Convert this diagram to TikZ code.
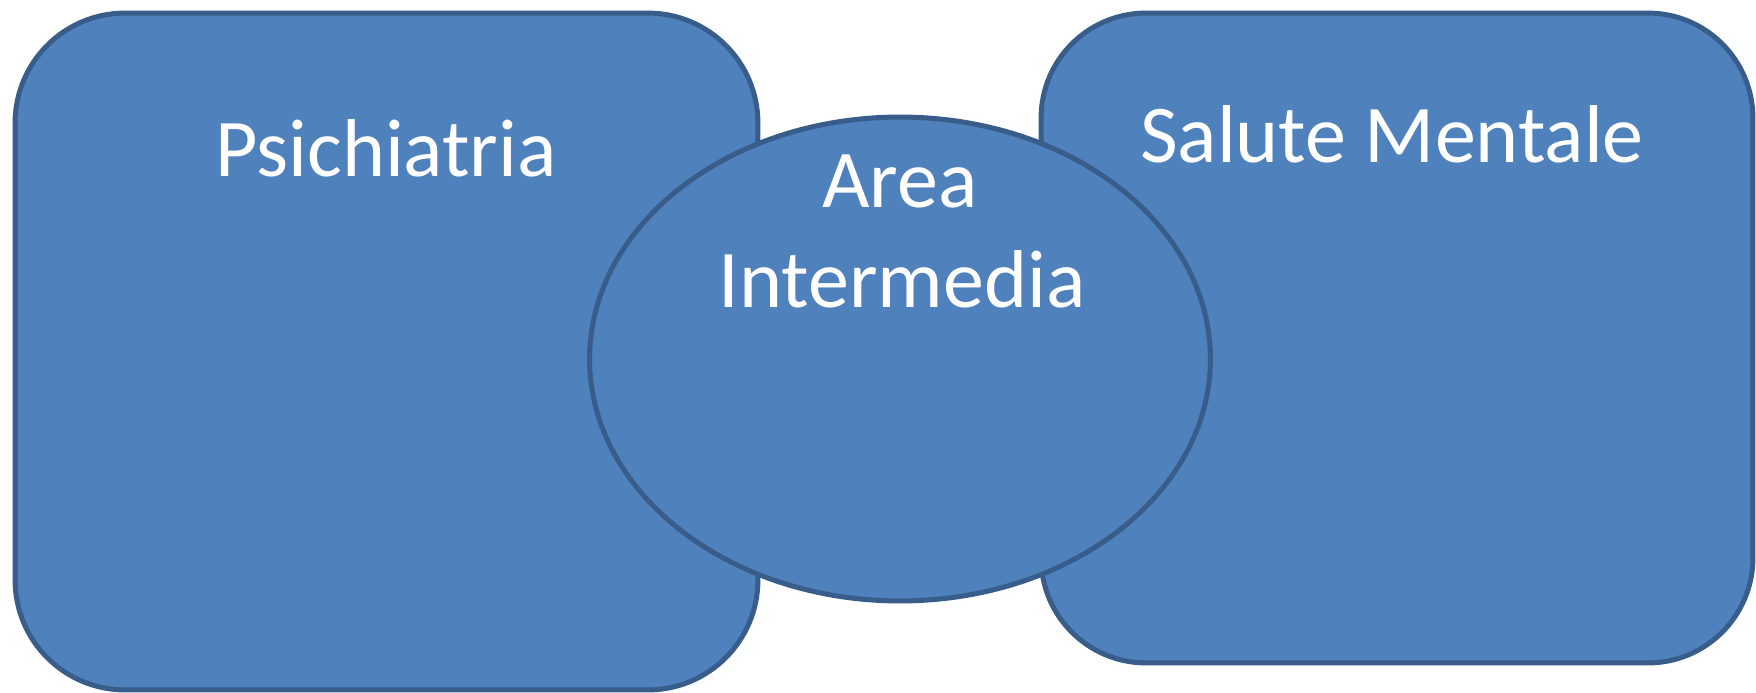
\documentclass[tikz,border=0pt]{standalone}
\usepackage{fontspec}
\setmainfont{Carlito}
\usetikzlibrary{shapes.geometric}
\definecolor{shapefill}{HTML}{4F81BD}
\definecolor{shapeline}{HTML}{385D8A}
\begin{document}
\begin{tikzpicture}[x=0.02cm,y=-0.02cm,
  panel/.style={draw=shapeline, fill=shapefill, line width=0.1cm, inner sep=0pt},
  caption/.style={text=white, font=\fontsize{46.7}{56.9}\selectfont, anchor=base, inner sep=0pt}]
\useasboundingbox (0,0) rectangle (1756,693);
% two rounded panels
\node[panel, rectangle, rounded corners=2.2cm, minimum width=14.86cm, minimum height=13.54cm] (psi) at (386.5,351.5) {};
\node[panel, rectangle, rounded corners=2.1cm, minimum width=14.24cm, minimum height=13cm] (sal) at (1397,338) {};
% overlapping ellipse in the middle
\node[panel, ellipse, minimum width=12.42cm, minimum height=9.68cm] (mid) at (900,359) {};
% labels
\node[caption] (psiT) at (386,176) {Psichiatria};
\node[caption] (salT) at (1392,162) {Salute Mentale};
\node[caption] (midA) at (900,207) {Area};
\node[caption] (midB) at (902,307) {Intermedia};
\end{tikzpicture}
\end{document}
